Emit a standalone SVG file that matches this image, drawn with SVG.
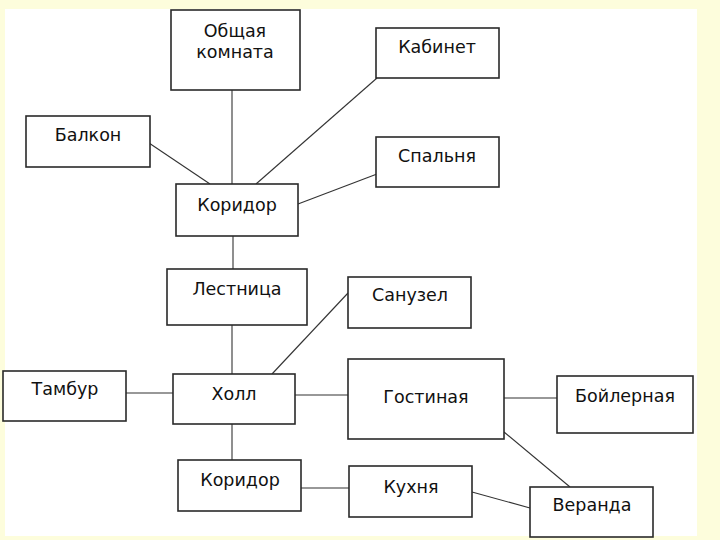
<svg xmlns="http://www.w3.org/2000/svg" width="720" height="540" viewBox="0 0 720 540">
<style>
.bx{fill:#fff;stroke:#2a2a2a;stroke-width:1.6}
.t{font-family:"DejaVu Sans",sans-serif;font-size:17.5px;fill:#111;text-anchor:middle}
.c line{stroke:#333;stroke-width:1.1}
</style>
<rect x="0" y="0" width="720" height="540" fill="#FDFDDC"/>
<rect x="5" y="9" width="692" height="527" fill="#fff"/>
<g class="c" id="connectors">
<line x1="232" y1="90" x2="232" y2="184"/>
<line x1="149" y1="143" x2="210" y2="184"/>
<line x1="377" y1="78" x2="256" y2="184"/>
<line x1="377" y1="174" x2="298" y2="204"/>
<line x1="233" y1="236" x2="233" y2="269"/>
<line x1="232" y1="325" x2="232" y2="374"/>
<line x1="126" y1="393" x2="173" y2="393"/>
<line x1="272" y1="374" x2="348" y2="293"/>
<line x1="295" y1="395" x2="348" y2="395"/>
<line x1="504" y1="398" x2="557" y2="398"/>
<line x1="504" y1="432" x2="570" y2="487"/>
<line x1="232" y1="424" x2="232" y2="460"/>
<line x1="301" y1="488" x2="349" y2="488"/>
<line x1="472" y1="492" x2="530" y2="508"/>
</g>
<g id="obshaya"><rect class="bx" x="171" y="10" width="129" height="80"/><text class="t" x="235" y="37">Общая</text><text class="t" x="235" y="58">комната</text></g>
<g id="kabinet"><rect class="bx" x="376" y="28" width="123" height="50"/><text class="t" x="437" y="53">Кабинет</text></g>
<g id="balkon"><rect class="bx" x="26" y="116" width="124" height="51"/><text class="t" x="88" y="141">Балкон</text></g>
<g id="spalnya"><rect class="bx" x="376" y="137" width="123" height="50"/><text class="t" x="437" y="162">Спальня</text></g>
<g id="koridor1"><rect class="bx" x="176" y="184" width="122" height="52"/><text class="t" x="237" y="211">Коридор</text></g>
<g id="lestnica"><rect class="bx" x="167" y="269" width="140" height="56"/><text class="t" x="237" y="295">Лестница</text></g>
<g id="sanuzel"><rect class="bx" x="348" y="277" width="123" height="51"/><text class="t" x="410" y="301">Санузел</text></g>
<g id="tambur"><rect class="bx" x="3" y="371" width="123" height="50"/><text class="t" x="65" y="395">Тамбур</text></g>
<g id="holl"><rect class="bx" x="173" y="374" width="122" height="50"/><text class="t" x="234" y="400">Холл</text></g>
<g id="gostinaya"><rect class="bx" x="348" y="359" width="156" height="80"/><text class="t" x="426" y="403">Гостиная</text></g>
<g id="boilernaya"><rect class="bx" x="557" y="376" width="136" height="57"/><text class="t" x="625" y="402">Бойлерная</text></g>
<g id="koridor2"><rect class="bx" x="178" y="460" width="123" height="51"/><text class="t" x="240" y="486">Коридор</text></g>
<g id="kuhnya"><rect class="bx" x="349" y="466" width="123" height="51"/><text class="t" x="411" y="493">Кухня</text></g>
<g id="veranda"><rect class="bx" x="530" y="487" width="123" height="50"/><text class="t" x="592" y="511">Веранда</text></g>
</svg>
